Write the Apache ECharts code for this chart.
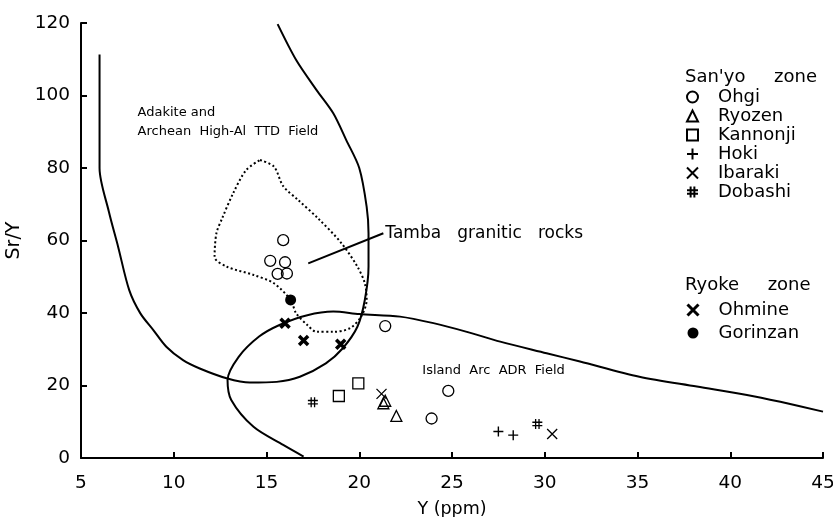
<!DOCTYPE html>
<html>
<head>
<meta charset="utf-8">
<script src="https://cdn.jsdelivr.net/npm/echarts@6/dist/echarts.min.js"></script>
<style>html,body{margin:0;padding:0;background:#fff;}#c{width:833px;height:517px;}</style>
</head>
<body>
<div id="c"></div>
<script>
// ---- data (x = Y ppm, y = Sr/Y) ----
var ohgi = [[15.2,54.4],[16.0,54.0],[15.6,50.8],[16.1,50.9],[15.9,60.1],[21.4,36.4],[24.8,18.5],[23.9,10.9]];
var ryozen = [[21.3,15.1],[21.4,15.8],[22.0,11.6]];
var kannonji = [[19.95,20.6],[18.9,17.1]];
var hoki = [[27.5,7.3],[28.3,6.3]];
var ibaraki = [[21.2,17.7],[30.4,6.6]];
var dobashi = [[17.5,15.4],[29.6,9.4]];
var ohmine = [[16.0,37.2],[17.0,32.4],[19.0,31.4]];
var gorinzan = [[16.3,43.6]];

// field boundaries
var adakiteField = [[6.0,111.3],[6.0,95],[6.0,80],[6.5,68],[7.0,58.3],[7.6,46.3],[8.2,39.9],[8.9,35.3],[9.6,30.7],[10.5,27.0],[11.4,24.7],[12.85,22.0],[14.1,20.8],[15.55,21.0],[16.8,22.4],[18.2,26.1],[19.1,30.2],[19.9,36.2],[20.3,43.6],[20.5,52.8],[20.5,62.0],[20.4,69.3],[20.0,80.0],[19.3,87.7],[18.6,95.1],[17.7,101.5],[16.6,109.8],[15.6,119.7]];
var adrField = [[17.0,0.4],[15.9,3.6],[14.3,8.6],[13.1,16.0],[12.9,21.5],[13.5,27.9],[14.6,33.5],[15.7,36.7],[17.2,39.4],[18.6,40.4],[20.0,39.7],[22.2,39.0],[24.0,37.2],[25.8,34.8],[27.6,32.1],[30.1,28.9],[31.9,26.6],[35.1,22.4],[38.2,19.7],[40.9,17.4],[42.7,15.5],[45.0,12.8]];
var tambaField = [[14.65,82.2],[15.4,80.4],[15.9,75.0],[16.7,71.2],[17.8,66.0],[19.0,59.5],[19.9,52.8],[20.3,48.2],[20.4,43.6],[20.1,39.0],[19.5,35.8],[18.6,34.8],[17.7,34.8],[17.2,36.7],[16.6,39.9],[16.3,43.6],[15.4,48.2],[14.3,50.5],[12.85,52.8],[12.2,55.5],[12.3,62.0],[12.6,66.0],[13.2,73.0],[13.9,79.4],[14.65,82.2]];
var tambaPointer = [[17.25,53.7],[21.3,62.0]];

var xTicks = {min:5, max:45, interval:5};
var yTicks = {min:0, max:120, interval:20};

var adakiteLabel = [[8.05,92.6]];
var adrLabel = [[23.4,24.0]];

var FONT = 'DejaVu Sans';
var K = '#000';
var P_PLUS = 'path://M5,0L5,10M0,5L10,5';
var P_X = 'path://M0,0L10,10M10,0L0,10';
var P_HASH = 'path://M3.3,0L3.3,10M6.7,0L6.7,10M0,3.3L10,3.3M0,6.7L10,6.7';
var NONE = 'rgba(255,255,255,0)';

function pts(name, data, symbol, size, fill, bw){
  return {name:name, type:'scatter', data:data, symbol:symbol, symbolSize:size, z:5,
    itemStyle:{color:fill, borderColor:K, borderWidth:bw, opacity:1}, emphasis:{disabled:true}};
}
function curve(data, dotted){
  return {type:'line', data:data, showSymbol:false, symbol:'none', smooth:0.3, silent:true, z:3,
    lineStyle:{color:K, width:2, type: dotted ? [2,2.5] : 'solid'}};
}
var legendText = {fontSize:18, lineHeight:18, color:K, fontFamily:FONT, padding:[0,0,0,15]};

var chart = echarts.init(document.getElementById('c'), null, {renderer:'canvas'});
chart.setOption({
  animation:false,
  backgroundColor:'#fff',
  textStyle:{fontFamily:FONT, color:K},
  grid:{left:81, right:10, top:23, bottom:59, containLabel:false, outerBoundsMode:'none'},
  xAxis:{type:'value', min:xTicks.min, max:xTicks.max, interval:xTicks.interval,
    name:'Y (ppm)', nameLocation:'middle', nameGap:42, nameTextStyle:{fontSize:17.5, color:K, fontFamily:FONT},
    axisLine:{onZero:false, lineStyle:{color:K, width:2}}, axisTick:{inside:true, length:6, lineStyle:{color:K, width:2}},
    axisLabel:{fontSize:18.5, color:K, margin:16, fontFamily:FONT}, splitLine:{show:false}},
  yAxis:{type:'value', min:yTicks.min, max:yTicks.max, interval:yTicks.interval,
    name:'Sr/Y', nameLocation:'middle', nameGap:55, nameRotate:90, nameTextStyle:{fontSize:19, color:K, fontFamily:FONT},
    axisLine:{onZero:false, lineStyle:{color:K, width:2}}, axisTick:{inside:true, length:6, lineStyle:{color:K, width:2}},
    axisLabel:{fontSize:18.5, color:K, margin:11, fontFamily:FONT}, splitLine:{show:false}},
  legend:[
    {orient:'vertical', left:686, top:88, padding:0, itemGap:1, itemWidth:11, itemHeight:11,
     textStyle:legendText, selectedMode:false,
     data:['Ohgi','Ryozen','Kannonji','Hoki','Ibaraki','Dobashi']},
    {orient:'vertical', left:686, top:301, padding:0, itemGap:5, itemWidth:11, itemHeight:11,
     textStyle:legendText, selectedMode:false,
     data:[{name:'Ohmine', itemStyle:{borderWidth:3}}, 'Gorinzan']}
  ],
  graphic:[
    {type:'text', left:685, top:68, style:{text:"San'yo     zone", font:'18px "DejaVu Sans"', fill:K}},
    {type:'text', left:685, top:276, style:{text:"Ryoke     zone", font:'18px "DejaVu Sans"', fill:K}}
  ],
  series:[
    curve(adakiteField, false),
    curve(adrField, false),
    curve(tambaField, true),
    {type:'line', data:tambaPointer, showSymbol:false, symbol:'none', silent:true, z:3,
     lineStyle:{color:K, width:2},
     endLabel:{show:true, formatter:'Tamba   granitic   rocks', fontSize:17, color:K, fontFamily:FONT, distance:2}},
    {type:'scatter', data:adakiteLabel, symbolSize:0, silent:true, itemStyle:{opacity:1},
     label:{show:true, position:'right', distance:0, formatter:'Adakite and\nArchean  High-Al  TTD  Field', fontSize:13, lineHeight:19, color:K, fontFamily:FONT}},
    {type:'scatter', data:adrLabel, symbolSize:0, silent:true, itemStyle:{opacity:1},
     label:{show:true, position:'right', distance:0, formatter:'Island  Arc  ADR  Field', fontSize:13, color:K, fontFamily:FONT}},
    pts('Ohgi', ohgi, 'circle', 11, NONE, 1.3),
    pts('Ryozen', ryozen, 'triangle', 11, NONE, 1.3),
    pts('Kannonji', kannonji, 'rect', 11, NONE, 1.3),
    pts('Hoki', hoki, P_PLUS, 10, NONE, 1.4),
    pts('Ibaraki', ibaraki, P_X, 10, NONE, 1.3),
    pts('Dobashi', dobashi, P_HASH, 10, NONE, 1.3),
    pts('Ohmine', ohmine, P_X, 9, NONE, 3.5),
    pts('Gorinzan', gorinzan, 'circle', 11, K, 0)
  ]
});
</script>
</body>
</html>
